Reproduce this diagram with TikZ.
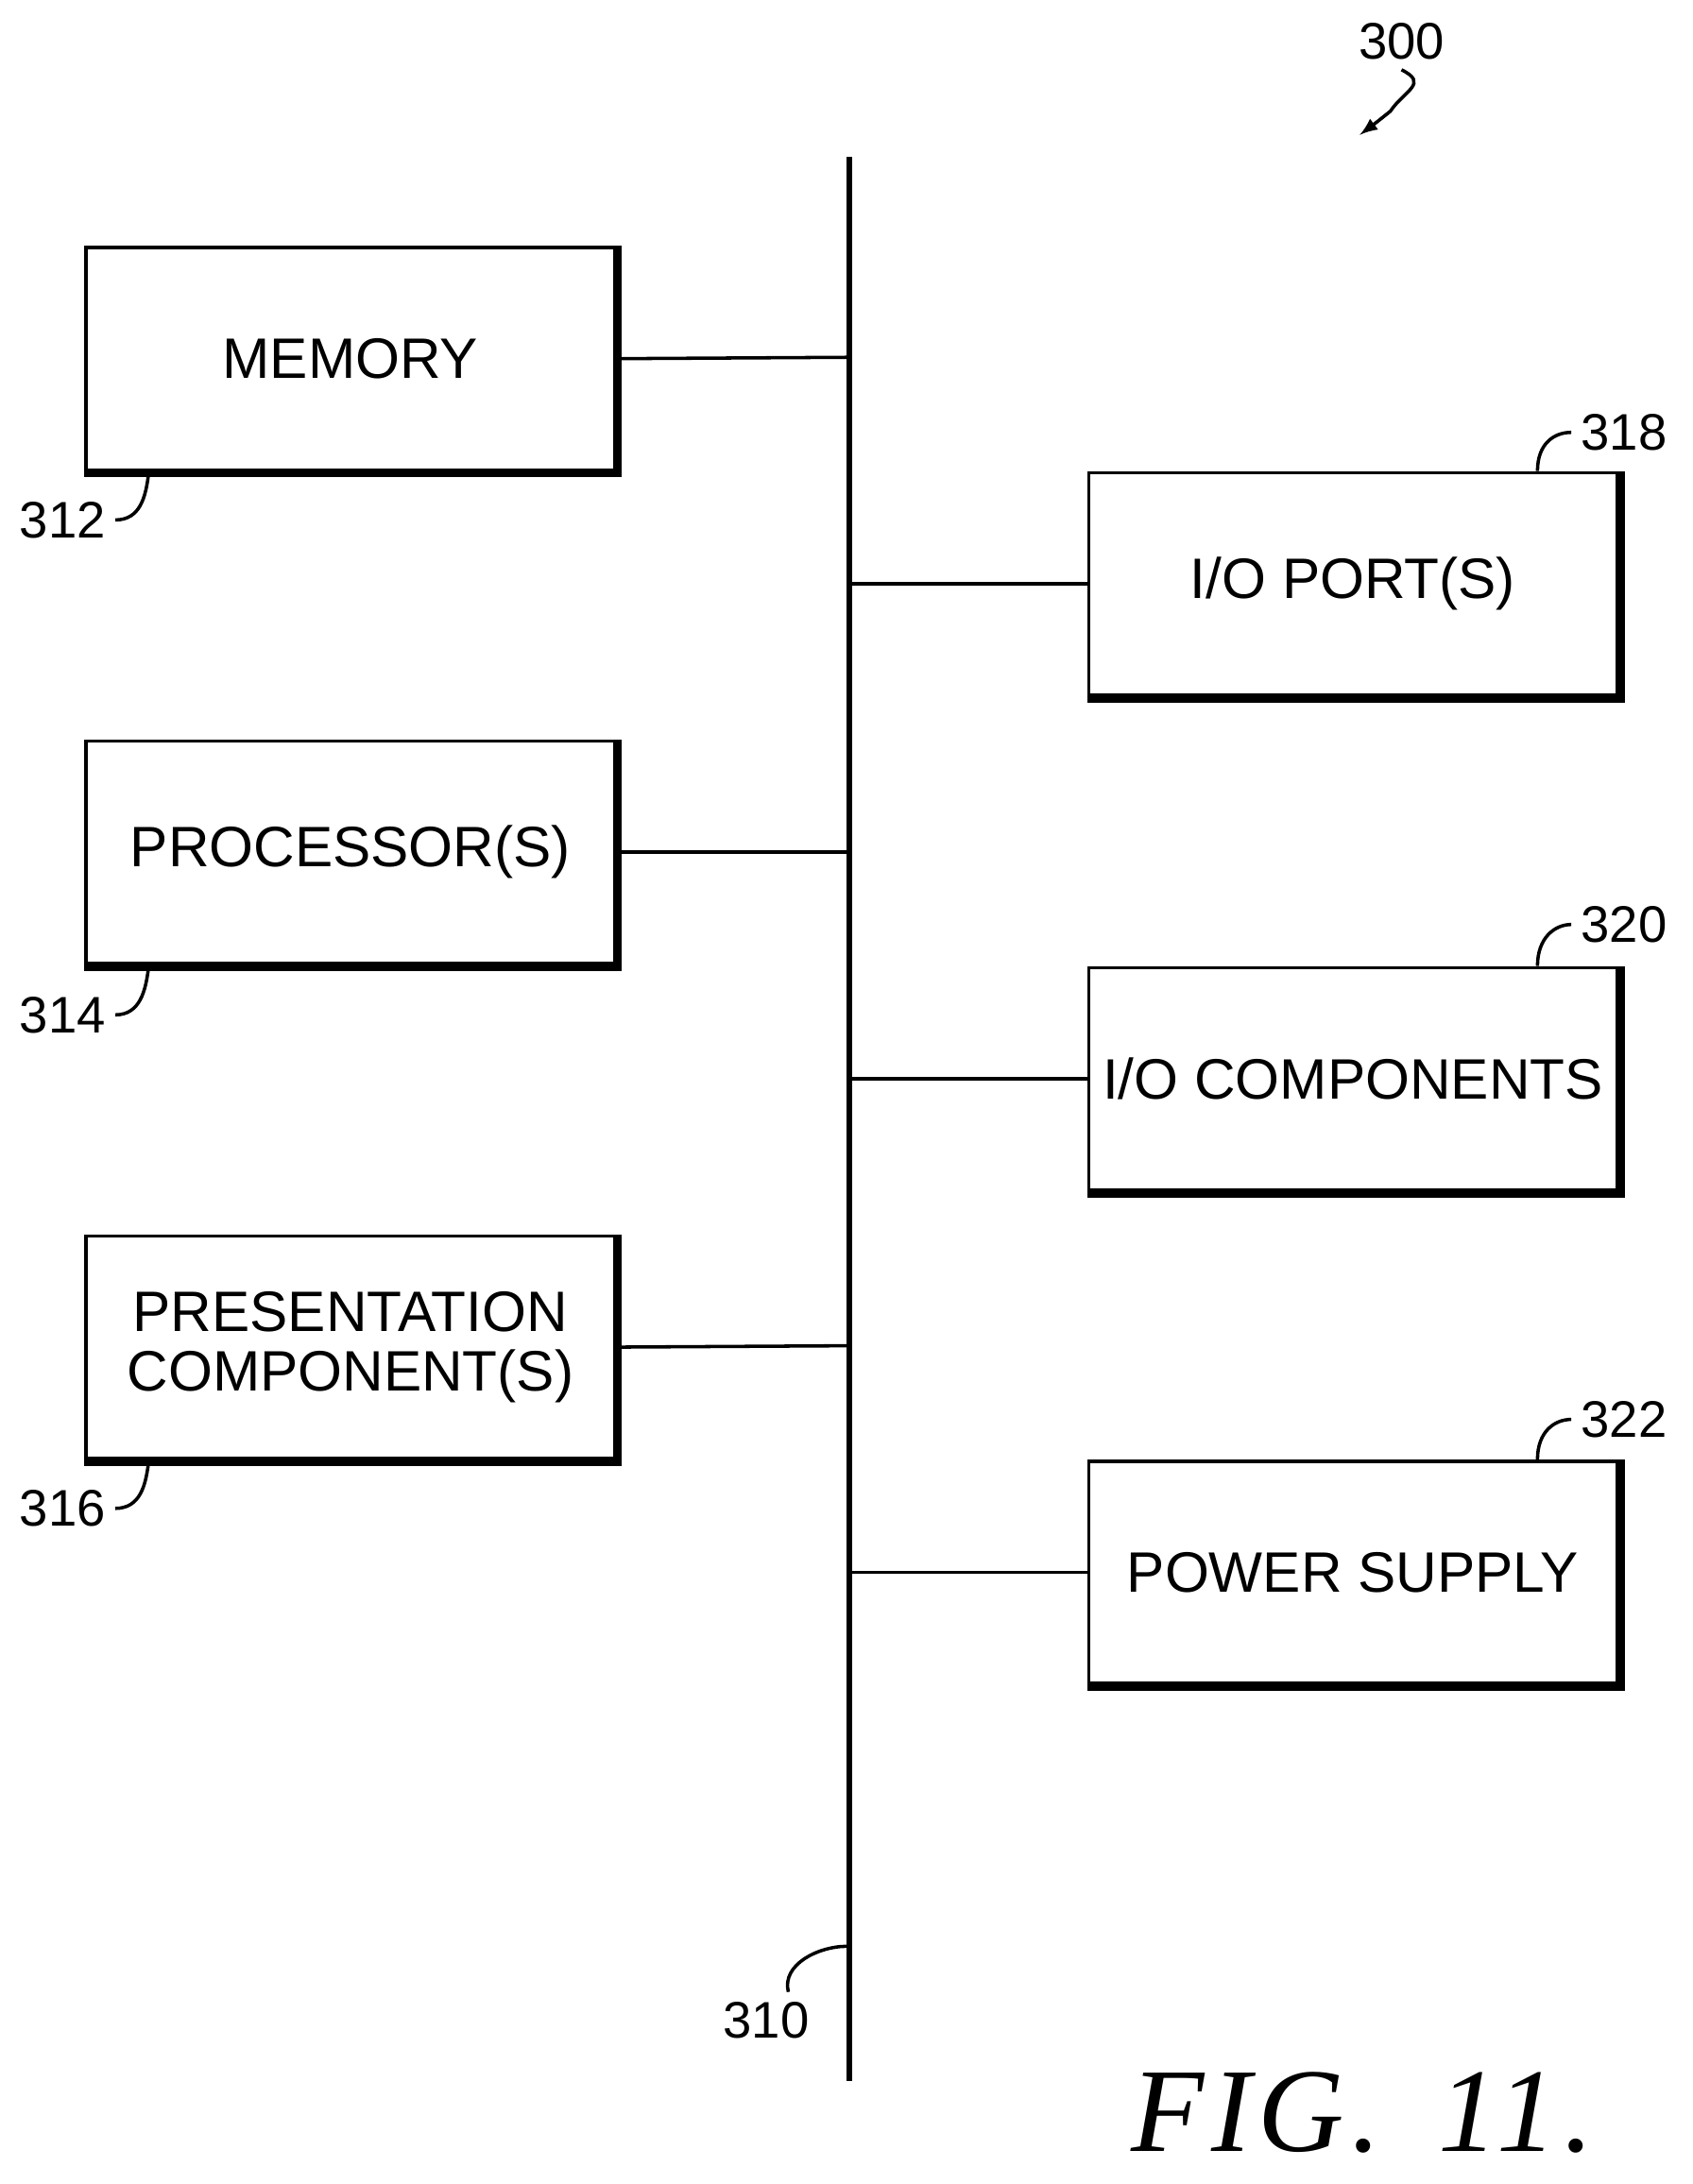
\documentclass[tikz,border=0pt]{standalone}
\usepackage{fontspec}
\setmainfont{Liberation Sans}
\newfontfamily\figfont[LetterSpace=6]{Liberation Serif}
\begin{document}
\begin{tikzpicture}[x=0.5pt,y=-0.5pt,
  box/.style={draw,line width=1.2pt,minimum width=190pt,minimum height=80pt,inner sep=0pt,align=center,font=\fontsize{20.5}{21.5}\selectfont},
  lbl/.style={font=\fontsize{18.5}{20}\selectfont},
  ln/.style={line width=1.2pt}]
\useasboundingbox (0,0) rectangle (1217,1571);
\node[box] (mem) at (252,258) {MEMORY};
\node[box] (proc) at (252,613) {PROCESSOR(S)};
\node[box] (pres) at (252,969) {PRESENTATION\\COMPONENT(S)};
\node[box] (port) at (973,420) {I/O PORT(S)};
\node[box] (ioc) at (973,776) {I/O COMPONENTS};
\node[box] (pow) at (973,1131) {POWER SUPPLY};
\foreach \n in {mem,proc,pres,port,ioc,pow}
  \draw[line width=2.2pt] ([yshift=-1pt]\n.south west) -- ([xshift=1pt,yshift=-1pt]\n.south east) -- ([xshift=1pt]\n.north east);
\coordinate (btop) at (611,113);
\coordinate (bbot) at (611,1497);
\draw[line width=2.2pt] (btop) -- (bbot);
\foreach \n/\y in {mem/257,proc/613,pres/968}{
  \coordinate (j\n) at (611,\y);
  \draw[ln] (\n.east) -- (j\n);}
\foreach \n/\y in {port/420,ioc/776,pow/1131}{
  \coordinate (j\n) at (611,\y);
  \draw[ln] (j\n) -- (\n.west);}
\node[lbl] (l312) at (45,374) {312};
\node[lbl] (l314) at (45,730) {314};
\node[lbl] (l316) at (45,1085) {316};
\foreach \l/\n in {l312/mem,l314/proc,l316/pres}
  \draw[ln] (\l.east) .. controls +(18,0) and +(-2,16) .. ([xshift=23pt,yshift=-1pt]\n.south west);
\node[lbl] (l318) at (1168,311) {318};
\node[lbl] (l320) at (1168,665) {320};
\node[lbl] (l322) at (1168,1021) {322};
\foreach \l/\n in {l318/port,l320/ioc,l322/pow}
  \draw[ln] ([xshift=162pt]\n.north west) .. controls +(0,-20) and +(-12,0) .. (\l.west);
\node[lbl] (l300) at (1008,30) {300};
\coordinate (a300) at (978,97);
\draw[ln,-latex] (l300.south) .. controls +(20,10) and +(10,-15) .. (1000,80) .. controls +(-10,8) .. (a300);
\node[lbl] (l310) at (551,1453) {310};
\coordinate (c310) at (609,1400);
\draw[ln] ([xshift=8pt]l310.north) .. controls +(-5,-20) and +(-20,0) .. (c310);
\node[font=\figfont\itshape\fontsize{43}{43}\selectfont] (fig) at (980,1520) {FIG.\, 11.};
\end{tikzpicture}
\end{document}
